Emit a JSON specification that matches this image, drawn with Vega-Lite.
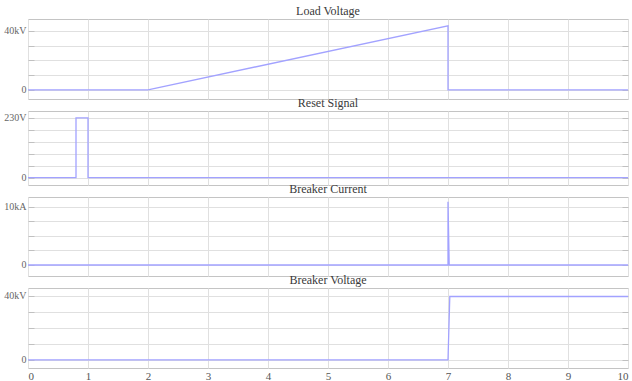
{
  "$schema": "https://vega.github.io/schema/vega-lite/v6.json",
  "padding": {"left": 0, "top": 4, "right": 0, "bottom": 0},
  "background": "white",
  "bounds": "flush",
  "spacing": 12,
  "config": {
    "font": "Liberation Serif",
    "view": {"stroke": "#c4c4c4", "strokeWidth": 1},
    "title": {"font": "Liberation Serif", "fontSize": 12, "fontWeight": "normal", "color": "#3a3a3a", "offset": 1},
    "axis": {"gridColor": "#e0e0e0", "gridWidth": 1, "domain": false, "labelFont": "Liberation Serif", "labelColor": "#666666", "labelFontSize": 10, "tickColor": "#c0c0c0"},
    "line": {"color": "#a2a2ff", "strokeWidth": 1.3}
  },
  "datasets": {
    "signals": [
      {"panel": "load", "seq": 1, "t": 0, "v": 0},
      {"panel": "load", "seq": 2, "t": 2, "v": 0},
      {"panel": "load", "seq": 3, "t": 7, "v": 43.4},
      {"panel": "load", "seq": 4, "t": 7, "v": 0},
      {"panel": "load", "seq": 5, "t": 10, "v": 0},
      {"panel": "reset", "seq": 1, "t": 0, "v": 0},
      {"panel": "reset", "seq": 2, "t": 0.8, "v": 0},
      {"panel": "reset", "seq": 3, "t": 0.8, "v": 230},
      {"panel": "reset", "seq": 4, "t": 1.0, "v": 230},
      {"panel": "reset", "seq": 5, "t": 1.0, "v": 0},
      {"panel": "reset", "seq": 6, "t": 10, "v": 0},
      {"panel": "current", "seq": 1, "t": 0, "v": 0},
      {"panel": "current", "seq": 2, "t": 7, "v": 0},
      {"panel": "current", "seq": 3, "t": 7, "v": 10.9},
      {"panel": "current", "seq": 4, "t": 7.02, "v": 0},
      {"panel": "current", "seq": 5, "t": 10, "v": 0},
      {"panel": "breaker", "seq": 1, "t": 0, "v": 0},
      {"panel": "breaker", "seq": 2, "t": 7, "v": 0},
      {"panel": "breaker", "seq": 3, "t": 7.03, "v": 39.5},
      {"panel": "breaker", "seq": 4, "t": 10, "v": 39.5}
    ]
  },
  "vconcat": [
    {
      "title": "Load Voltage",
      "width": 600,
      "height": 80,
      "data": {"name": "signals"},
      "transform": [{"filter": "datum.panel == 'load'"}],
      "resolve": {"axis": {"y": "independent"}},
      "layer": [
        {
          "mark": "line",
          "encoding": {
            "x": {"field": "t", "type": "quantitative", "scale": {"domain": [0, 10], "nice": false}, "axis": {"title": null, "values": [0,1,2,3,4,5,6,7,8,9,10], "labels": false, "ticks": false, "tickSize": 0, "minExtent": 0, "maxExtent": 0}},
            "y": {"field": "v", "type": "quantitative", "scale": {"domain": [-6.2, 48], "nice": false, "zero": false}, "axis": {"title": null, "orient": "left", "values": [0, 10, 20, 30, 40], "labelExpr": "datum.value == 0 ? '0' : datum.value == 40 ? '40kV' : ''", "offset": -6, "tickSize": 6, "labelPadding": 2, "minExtent": 33, "maxExtent": 33}},
            "order": {"field": "seq"}
          }
        },
        {
          "mark": {"type": "line", "opacity": 0},
          "encoding": {
            "x": {"field": "t", "type": "quantitative"},
            "y": {"field": "v", "type": "quantitative", "axis": {"title": null, "orient": "right", "values": [0, 10, 20, 30, 40], "labels": false, "grid": false, "offset": -6, "tickSize": 6, "minExtent": 0, "maxExtent": 0}},
            "order": {"field": "seq"}
          }
        }
      ]
    },
    {
      "title": "Reset Signal",
      "width": 600,
      "height": 74,
      "data": {"name": "signals"},
      "transform": [{"filter": "datum.panel == 'reset'"}],
      "resolve": {"axis": {"y": "independent"}},
      "layer": [
        {
          "mark": "line",
          "encoding": {
            "x": {"field": "t", "type": "quantitative", "scale": {"domain": [0, 10], "nice": false}, "axis": {"title": null, "values": [0,1,2,3,4,5,6,7,8,9,10], "labels": false, "ticks": false, "tickSize": 0, "minExtent": 0, "maxExtent": 0}},
            "y": {"field": "v", "type": "quantitative", "scale": {"domain": [-28, 256], "nice": false, "zero": false}, "axis": {"title": null, "orient": "left", "values": [0, 46, 92, 138, 184, 230], "labelExpr": "datum.value == 0 ? '0' : datum.value == 230 ? '230V' : ''", "offset": -6, "tickSize": 6, "labelPadding": 2, "minExtent": 33, "maxExtent": 33}},
            "order": {"field": "seq"}
          }
        },
        {
          "mark": {"type": "line", "opacity": 0},
          "encoding": {
            "x": {"field": "t", "type": "quantitative"},
            "y": {"field": "v", "type": "quantitative", "axis": {"title": null, "orient": "right", "values": [0, 46, 92, 138, 184, 230], "labels": false, "grid": false, "offset": -6, "tickSize": 6, "minExtent": 0, "maxExtent": 0}},
            "order": {"field": "seq"}
          }
        }
      ]
    },
    {
      "title": "Breaker Current",
      "width": 600,
      "height": 79,
      "data": {"name": "signals"},
      "transform": [{"filter": "datum.panel == 'current'"}],
      "resolve": {"axis": {"y": "independent"}},
      "layer": [
        {
          "mark": "line",
          "encoding": {
            "x": {"field": "t", "type": "quantitative", "scale": {"domain": [0, 10], "nice": false}, "axis": {"title": null, "values": [0,1,2,3,4,5,6,7,8,9,10], "labels": false, "ticks": false, "tickSize": 0, "minExtent": 0, "maxExtent": 0}},
            "y": {"field": "v", "type": "quantitative", "scale": {"domain": [-1.9, 11.72], "nice": false, "zero": false}, "axis": {"title": null, "orient": "left", "values": [0, 2.5, 5, 7.5, 10], "labelExpr": "datum.value == 0 ? '0' : datum.value == 10 ? '10kA' : ''", "offset": -6, "tickSize": 6, "labelPadding": 2, "minExtent": 33, "maxExtent": 33}},
            "order": {"field": "seq"}
          }
        },
        {
          "mark": {"type": "line", "opacity": 0},
          "encoding": {
            "x": {"field": "t", "type": "quantitative"},
            "y": {"field": "v", "type": "quantitative", "axis": {"title": null, "orient": "right", "values": [0, 2.5, 5, 7.5, 10], "labels": false, "grid": false, "offset": -6, "tickSize": 6, "minExtent": 0, "maxExtent": 0}},
            "order": {"field": "seq"}
          }
        }
      ]
    },
    {
      "title": "Breaker Voltage",
      "width": 600,
      "height": 80,
      "data": {"name": "signals"},
      "transform": [{"filter": "datum.panel == 'breaker'"}],
      "resolve": {"axis": {"y": "independent"}},
      "layer": [
        {
          "mark": "line",
          "encoding": {
            "x": {"field": "t", "type": "quantitative", "scale": {"domain": [0, 10], "nice": false}, "axis": {"title": null, "values": [0,1,2,3,4,5,6,7,8,9,10], "format": "d", "ticks": false, "tickSize": 0, "labelPadding": 2, "labelFontSize": 11, "labelColor": "#555555"}},
            "y": {"field": "v", "type": "quantitative", "scale": {"domain": [-5, 44.8], "nice": false, "zero": false}, "axis": {"title": null, "orient": "left", "values": [0, 10, 20, 30, 40], "labelExpr": "datum.value == 0 ? '0' : datum.value == 40 ? '40kV' : ''", "offset": -6, "tickSize": 6, "labelPadding": 2, "minExtent": 33, "maxExtent": 33}},
            "order": {"field": "seq"}
          }
        },
        {
          "mark": {"type": "line", "opacity": 0},
          "encoding": {
            "x": {"field": "t", "type": "quantitative"},
            "y": {"field": "v", "type": "quantitative", "axis": {"title": null, "orient": "right", "values": [0, 10, 20, 30, 40], "labels": false, "grid": false, "offset": -6, "tickSize": 6, "minExtent": 0, "maxExtent": 0}},
            "order": {"field": "seq"}
          }
        }
      ]
    }
  ]
}
